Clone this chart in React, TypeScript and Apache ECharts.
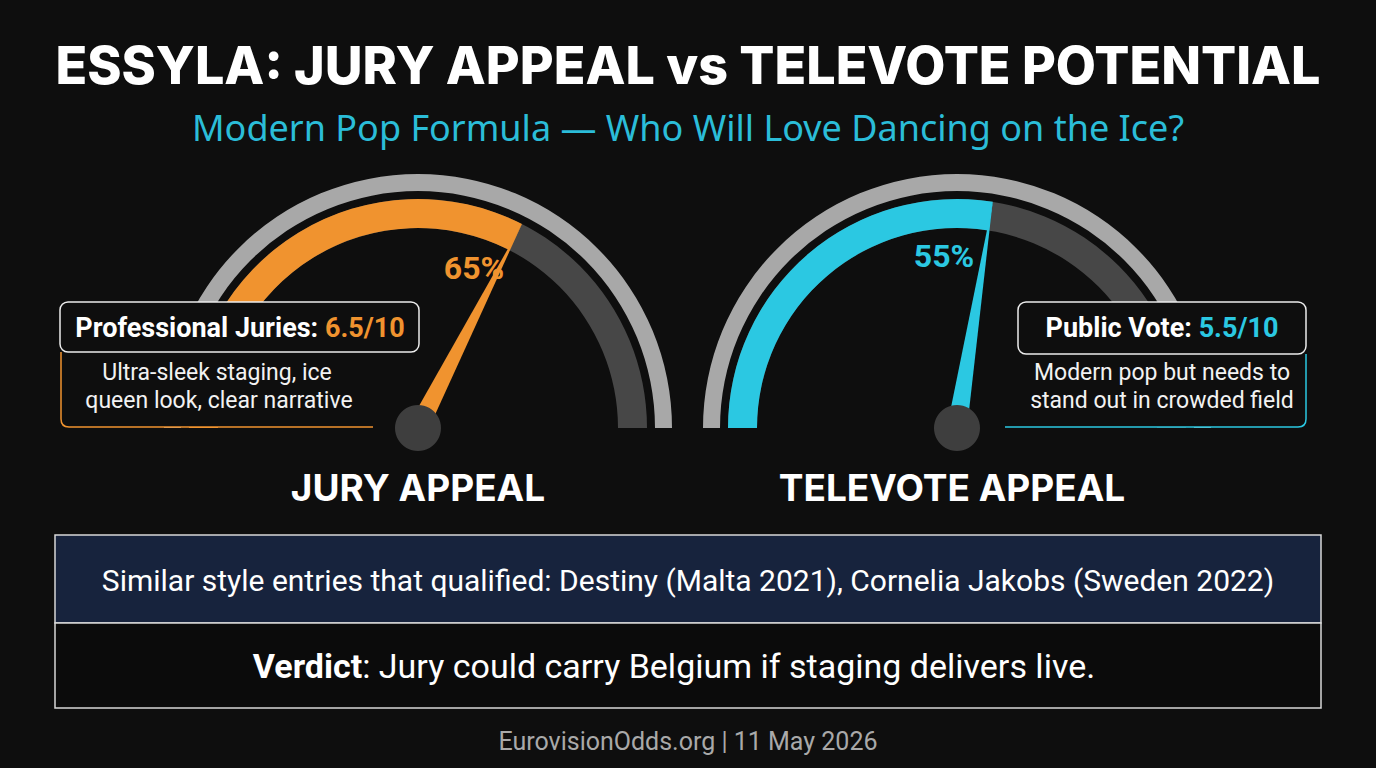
import React, { useEffect, useRef } from "react";
import * as echarts from "echarts";

const titleText = "ESSYLA: JURY APPEAL vs TELEVOTE POTENTIAL";
const subtitleText = "Modern Pop Formula — Who Will Love Dancing on the Ice?";
const gaugeNames = ["JURY APPEAL", "TELEVOTE APPEAL"];
const gaugeValues = [65, 55];
const gaugeColors = ["#f0932f", "#2bc8e2"];
const scoreLabels = ["Professional Juries: ", "Public Vote: "];
const scoreValues = ["6.5/10", "5.5/10"];
const noteLines = [
  ["Ultra-sleek staging, ice", "queen look, clear narrative"],
  ["Modern pop but needs to", "stand out in crowded field"],
];
const comparisonText =
  "Similar style entries that qualified: Destiny (Malta 2021), Cornelia Jakobs (Sweden 2022)";
const verdictLabel = "Verdict";
const verdictText = ": Jury could carry Belgium if staging delivers live.";
const footerText = "EurovisionOdds.org | 11 May 2026";

const BG = "#0e0e0e";

export default function App() {
  const ref = useRef<HTMLDivElement>(null);
  useEffect(() => {
    document.body.style.margin = "0";
    const chart = echarts.init(ref.current!, undefined, { renderer: "svg" });
    const centers = [418, 957];
    const cy = 428;
    const detailOffsets = [
      [56, -160],
      [-13, -172],
    ];
    const series: any[] = [];
    centers.forEach((cx, i) => {
      series.push({
        type: "gauge",
        center: [cx, cy],
        radius: 254,
        startAngle: 180,
        endAngle: 0,
        min: 0,
        max: 100,
        axisLine: { lineStyle: { width: 17, color: [[1, "#a8a8a8"]] } },
        pointer: { show: false },
        axisTick: { show: false },
        splitLine: { show: false },
        axisLabel: { show: false },
        title: { show: false },
        detail: { show: false },
        data: [{ value: gaugeValues[i] }],
      });
      series.push({
        type: "gauge",
        center: [cx, cy],
        radius: 229,
        startAngle: 180,
        endAngle: 0,
        min: 0,
        max: 100,
        axisLine: { lineStyle: { width: 29, color: [[1, "#474747"]] } },
        progress: { show: true, width: 29, itemStyle: { color: gaugeColors[i] } },
        pointer: {
          show: true,
          icon: "path://M50 0 L100 1000 L0 1000 Z",
          length: "100%",
          width: 20,
          offsetCenter: [0, 0],
          itemStyle: { color: gaugeColors[i] },
        },
        anchor: { show: true, showAbove: true, size: 46, itemStyle: { color: "#3e3e3e" } },
        axisTick: { show: false },
        splitLine: { show: false },
        axisLabel: { show: false },
        title: { show: false },
        detail: {
          show: true,
          offsetCenter: detailOffsets[i],
          formatter: "{value}%",
          color: gaugeColors[i],
          fontSize: 32,
          fontWeight: "bold",
          fontFamily: "Roboto",
        },
        data: [{ value: gaugeValues[i] }],
      });
    });

    const txt = (x: number, y: number, style: any, z = 120) => ({
      type: "text",
      x,
      y,
      z,
      style: { textAlign: "center", textVerticalAlign: "middle", fontFamily: "Roboto", ...style },
    });

    const graphic: any[] = [
      txt(688, 65, { text: titleText, fill: "#ffffff", fontSize: 52, fontWeight: 800, fontFamily: "Inter" }),
      txt(688, 127, { text: subtitleText, fill: "#2bbdd8", fontSize: 36, fontFamily: "Noto Sans" }),
      txt(418, 487, { text: gaugeNames[0], fill: "#fff", fontSize: 37, fontWeight: "bold", fontFamily: "Inter" }),
      txt(952, 487, { text: gaugeNames[1], fill: "#fff", fontSize: 37, fontWeight: "bold", fontFamily: "Inter" }),
      // left panel
      { type: "rect", z: 100, shape: { x: 61, y: 340, width: 312, height: 87 }, style: { fill: BG } },
      { type: "polyline", z: 101, shape: { points: [[61, 352], [61, 419]] }, style: { stroke: gaugeColors[0], lineWidth: 1.5, fill: null } },
      { type: "bezierCurve", z: 101, shape: { x1: 61, y1: 419, x2: 69, y2: 427, cpx1: 61, cpy1: 427 }, style: { stroke: gaugeColors[0], lineWidth: 1.5, fill: null } },
      { type: "line", z: 101, shape: { x1: 69, y1: 427, x2: 373, y2: 427 }, style: { stroke: gaugeColors[0], lineWidth: 1.5 } },
      { type: "rect", z: 110, shape: { x: 60, y: 302, width: 359, height: 50, r: 8 }, style: { fill: BG, stroke: "#ececec", lineWidth: 1.5 } },
      txt(240, 328, {
        text: `{a|${scoreLabels[0]}}{b|${scoreValues[0]}}`,
        rich: {
          a: { fill: "#ffffff", fontSize: 27, fontWeight: "bold", fontFamily: "Roboto" },
          b: { fill: gaugeColors[0], fontSize: 27, fontWeight: "bold", fontFamily: "Roboto" },
        },
      }),
      txt(217, 372, { text: noteLines[0][0], fill: "#f2f2f2", fontSize: 23 }),
      txt(219, 400, { text: noteLines[0][1], fill: "#f2f2f2", fontSize: 23 }),
      // right panel
      { type: "rect", z: 100, shape: { x: 1005, y: 340, width: 301, height: 87 }, style: { fill: BG } },
      { type: "polyline", z: 101, shape: { points: [[1306, 354], [1306, 419]] }, style: { stroke: gaugeColors[1], lineWidth: 1.5, fill: null } },
      { type: "bezierCurve", z: 101, shape: { x1: 1306, y1: 419, x2: 1298, y2: 427, cpx1: 1306, cpy1: 427 }, style: { stroke: gaugeColors[1], lineWidth: 1.5, fill: null } },
      { type: "line", z: 101, shape: { x1: 1005, y1: 427, x2: 1298, y2: 427 }, style: { stroke: gaugeColors[1], lineWidth: 1.5 } },
      { type: "rect", z: 110, shape: { x: 1018, y: 302, width: 288, height: 52, r: 8 }, style: { fill: BG, stroke: "#ececec", lineWidth: 1.5 } },
      txt(1162, 328, {
        text: `{a|${scoreLabels[1]}}{b|${scoreValues[1]}}`,
        rich: {
          a: { fill: "#ffffff", fontSize: 27, fontWeight: "bold", fontFamily: "Roboto" },
          b: { fill: gaugeColors[1], fontSize: 27, fontWeight: "bold", fontFamily: "Roboto" },
        },
      }),
      txt(1162, 372, { text: noteLines[1][0], fill: "#f2f2f2", fontSize: 23 }),
      txt(1162, 400, { text: noteLines[1][1], fill: "#f2f2f2", fontSize: 23 }),
      // table
      { type: "rect", z: 100, shape: { x: 55, y: 535, width: 1266, height: 88 }, style: { fill: "#17233d", stroke: "#d8d8d8", lineWidth: 1.5 } },
      { type: "rect", z: 100, shape: { x: 55, y: 623, width: 1266, height: 85 }, style: { fill: "#0b0b0b", stroke: "#d8d8d8", lineWidth: 1.5 } },
      txt(688, 580, { text: comparisonText, fill: "#ffffff", fontSize: 30 }),
      txt(674, 666, {
        text: `{a|${verdictLabel}}{b|${verdictText}}`,
        rich: {
          a: { fill: "#ffffff", fontSize: 34, fontWeight: "bold", fontFamily: "Roboto" },
          b: { fill: "#ffffff", fontSize: 34, fontFamily: "Roboto" },
        },
      }),
      txt(688, 741, { text: footerText, fill: "#a9a9a9", fontSize: 25 }),
    ];

    chart.setOption({
      animation: false,
      backgroundColor: BG,
      series,
      graphic,
    });
    return () => chart.dispose();
  }, []);
  return (
    <div
      ref={ref}
      style={{ position: "fixed", left: 0, top: 0, width: 1376, height: 768 }}
    />
  );
}
